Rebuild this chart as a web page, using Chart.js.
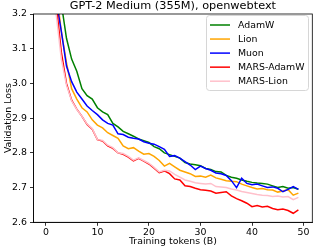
<!DOCTYPE html>
<html>
<head>
<meta charset="utf-8">
<script src="https://cdn.jsdelivr.net/npm/chart.js@4/dist/chart.umd.min.js"></script>
<style>
html,body{margin:0;padding:0;background:#fff;}
canvas{display:block;}
</style>
</head>
<body>
<canvas id="c" width="314" height="250"></canvas>
<script>
const tokens = [1,2,3,4,5,6,7,8,9,10,11,12,13,14,15,16,17,18,19,20,21,22,23,24,25,26,27,28,29,30,31,32,33,34,35,36,37,38,39,40,41,42,43,44,45,46,47,48,49];

const adamw = [3.60,3.38,3.23,3.13,3.07,3.035,2.985,2.965,2.955,2.93,2.918,2.91,2.885,2.875,2.862,2.855,2.848,2.84,2.835,2.83,2.818,2.812,2.80,2.795,2.79,2.785,2.772,2.768,2.766,2.763,2.755,2.752,2.746,2.745,2.735,2.73,2.727,2.722,2.718,2.715,2.713,2.712,2.71,2.705,2.70,2.703,2.698,2.70,2.695];

const lion = [3.55,3.27,3.15,3.06,2.985,2.955,2.93,2.918,2.895,2.88,2.872,2.858,2.85,2.842,2.82,2.812,2.815,2.805,2.796,2.798,2.79,2.778,2.762,2.77,2.76,2.75,2.745,2.74,2.732,2.733,2.73,2.736,2.728,2.724,2.72,2.718,2.717,2.71,2.705,2.70,2.696,2.697,2.694,2.693,2.687,2.69,2.694,2.678,2.684];

const muon = [3.50,3.24,3.15,3.05,3.005,2.975,2.955,2.935,2.922,2.91,2.895,2.885,2.88,2.855,2.853,2.845,2.842,2.84,2.832,2.828,2.825,2.818,2.81,2.79,2.792,2.785,2.775,2.765,2.752,2.762,2.755,2.75,2.742,2.74,2.735,2.72,2.70,2.727,2.712,2.708,2.71,2.705,2.70,2.702,2.698,2.688,2.695,2.703,2.695];

const marsAdamw = [3.45,3.23,3.09,3.00,2.952,2.926,2.905,2.882,2.868,2.838,2.834,2.82,2.813,2.80,2.796,2.788,2.777,2.784,2.776,2.768,2.756,2.743,2.748,2.74,2.725,2.722,2.705,2.703,2.698,2.694,2.692,2.69,2.684,2.686,2.688,2.676,2.668,2.662,2.655,2.645,2.648,2.644,2.646,2.64,2.636,2.638,2.634,2.626,2.636];

const marsLion = [3.40,3.20,3.07,2.995,2.95,2.925,2.905,2.883,2.87,2.838,2.836,2.822,2.815,2.80,2.798,2.79,2.779,2.786,2.778,2.77,2.758,2.745,2.75,2.748,2.738,2.73,2.722,2.718,2.714,2.712,2.71,2.712,2.703,2.702,2.70,2.696,2.693,2.689,2.686,2.683,2.68,2.678,2.677,2.674,2.676,2.673,2.674,2.665,2.672];

const seriesNames = ['AdamW','Lion','Muon','MARS-AdamW','MARS-Lion'];
const seriesColors = ['green','orange','blue','red','pink'];
const seriesValues = [adamw, lion, muon, marsAdamw, marsLion];
const xTicks = [0,10,20,30,40,50];
const yTicks = [2.6,2.7,2.8,2.9,3.0,3.1,3.2];

const titleText = 'GPT-2 Medium (355M), openwebtext';
const xLabel = 'Training tokens (B)';
const yLabel = 'Validation Loss';

const FONT = '"DejaVu Sans", sans-serif';

const datasets = seriesNames.map((name, i) => ({
  label: name,
  data: tokens.map((t, j) => ({x: t, y: seriesValues[i][j]})),
  borderColor: seriesColors[i],
  backgroundColor: seriesColors[i],
  borderWidth: 1.5,
  pointRadius: 0,
  tension: 0,
  fill: false,
  clip: 0,
  order: seriesNames.length - i
}));

const decor = {
  id: 'decor',
  afterDraw(chart) {
    const ctx = chart.ctx;
    const a = chart.chartArea;
    ctx.save();
    // spines
    ctx.strokeStyle = '#000';
    ctx.lineWidth = 0.8;
    ctx.strokeRect(a.left, a.top, a.right - a.left, a.bottom - a.top);
    // title
    ctx.fillStyle = '#000';
    ctx.font = '11.3px ' + FONT;
    ctx.textAlign = 'center';
    ctx.textBaseline = 'middle';
    ctx.fillText(titleText, (a.left + a.right) / 2, 6.5);
    // x label
    ctx.font = '9.4px ' + FONT;
    ctx.fillText(xLabel, (a.left + a.right) / 2, 241.5);
    // y label
    ctx.save();
    ctx.translate(8.5, (a.top + a.bottom) / 2);
    ctx.rotate(-Math.PI / 2);
    ctx.fillText(yLabel, 0, 0);
    ctx.restore();
    // legend
    const bx = 206.5, by = 15.5, bw = 102, bh = 75, r = 3;
    ctx.beginPath();
    ctx.moveTo(bx + r, by);
    ctx.lineTo(bx + bw - r, by);
    ctx.arcTo(bx + bw, by, bx + bw, by + r, r);
    ctx.lineTo(bx + bw, by + bh - r);
    ctx.arcTo(bx + bw, by + bh, bx + bw - r, by + bh, r);
    ctx.lineTo(bx + r, by + bh);
    ctx.arcTo(bx, by + bh, bx, by + bh - r, r);
    ctx.lineTo(bx, by + r);
    ctx.arcTo(bx, by, bx + r, by, r);
    ctx.closePath();
    ctx.fillStyle = 'rgba(255,255,255,0.8)';
    ctx.fill();
    ctx.strokeStyle = '#d6d6d6';
    ctx.lineWidth = 1;
    ctx.stroke();
    ctx.textAlign = 'left';
    ctx.textBaseline = 'middle';
    ctx.font = '9.4px ' + FONT;
    chart.data.datasets.forEach((ds, i) => {
      const yy = 25 + i * 14.05;
      ctx.strokeStyle = ds.borderColor;
      ctx.lineWidth = 1.5;
      ctx.beginPath();
      ctx.moveTo(210, yy);
      ctx.lineTo(230, yy);
      ctx.stroke();
      ctx.fillStyle = '#000';
      ctx.fillText(ds.label, 238, yy + 0.5);
    });
    ctx.restore();
  }
};

new Chart(document.getElementById('c'), {
  type: 'line',
  data: { datasets },
  options: {
    responsive: false,
    animation: false,
    devicePixelRatio: 1,
    layout: { padding: { top: 14, right: 1.7, left: 0, bottom: 0 } },
    plugins: { legend: { display: false }, title: { display: false }, tooltip: { enabled: false } },
    scales: {
      x: {
        type: 'linear',
        min: -2.4,
        max: 51.7,
        afterBuildTicks: s => { s.ticks = xTicks.map(v => ({value: v})); },
        afterFit: s => { s.height = 27.7; },
        ticks: { color: '#000', font: { family: FONT, size: 9.4 }, padding: 1.5, maxRotation: 0, callback: v => String(v) },
        grid: { display: true, drawOnChartArea: false, drawTicks: true, tickLength: 3.5, tickColor: '#000', tickWidth: 0.8 },
        border: { display: true, color: '#000', width: 0.8 }
      },
      y: {
        type: 'linear',
        min: 2.6,
        max: 3.2,
        afterBuildTicks: s => { s.ticks = yTicks.map(v => ({value: v})); },
        afterFit: s => { s.width = 33.5; },
        ticks: { color: '#000', font: { family: FONT, size: 9.4 }, padding: 3, callback: v => Number(v).toFixed(1) },
        grid: { display: true, drawOnChartArea: false, drawTicks: true, tickLength: 3.5, tickColor: '#000', tickWidth: 0.8 },
        border: { display: true, color: '#000', width: 0.8 }
      }
    }
  },
  plugins: [decor]
});
</script>
</body>
</html>
